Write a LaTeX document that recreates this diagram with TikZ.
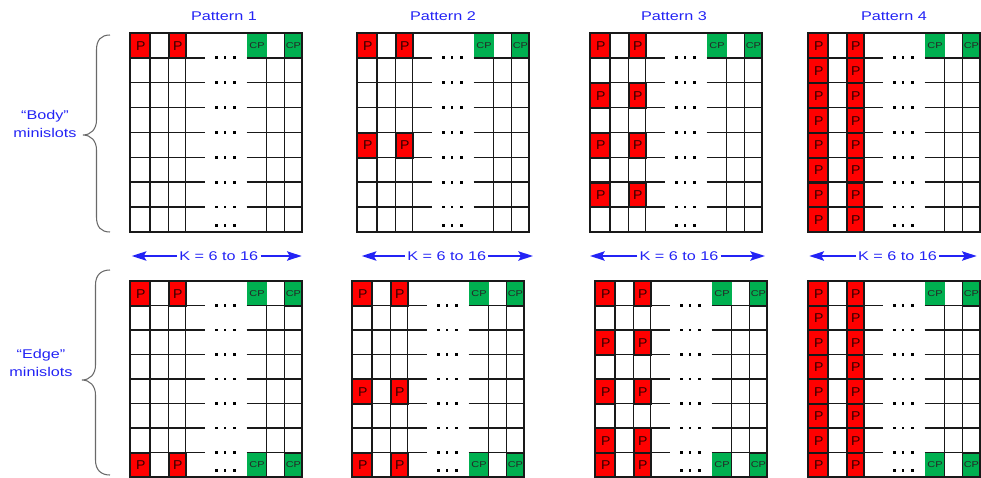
\documentclass[tikz,border=0pt]{standalone}
\usepackage{fontspec}
\setmainfont{Liberation Sans}[FakeStretch=1.28]
\newfontfamily\plainsans{Liberation Sans}[FakeStretch=1.1]
\usetikzlibrary{arrows.meta}
\definecolor{kblue}{RGB}{35,35,245}
\definecolor{cpgreen}{RGB}{0,176,80}
\definecolor{linegray}{RGB}{25,25,25}
\definecolor{bracegray}{RGB}{105,105,105}

\begin{document}
\begin{tikzpicture}[x=0.75pt,y=0.75pt,yscale=-1,xscale=1,
  gridline/.style={draw=linegray,line width=1.1pt},
  pcell/.style={draw=linegray,line width=1.1pt,fill=red,inner sep=0pt,anchor=north west,text=black!80!red,font=\plainsans\fontsize{9.6}{10}\selectfont},
  cpcell/.style={fill=cpgreen,inner sep=0pt,anchor=north west,text=black!85,font=\fontsize{6.4}{7}\selectfont},
  pattitle/.style={text=kblue,font=\fontsize{9.5}{11}\selectfont},
  sidelabel/.style={text=kblue,align=center,font=\fontsize{9.5}{13.3}\selectfont},
  klabel/.style={text=kblue,inner xsep=1.5pt,font=\fontsize{9.5}{11}\selectfont},
  karrow/.style={draw=kblue,line width=1.4pt,-{Stealth[length=11pt,width=7pt,inset=2pt]}},
  curlybrace/.style={draw=bracegray,line width=0.8pt}]
\useasboundingbox (0,0) rectangle (981,478);

% minislot grids: left / top / row height / pattern / edge
\foreach \gx/\gy/\rh/\n/\e [count=\i] in {130/33/24.85/1/0, 357/33/24.85/2/0, 590/33/24.85/3/0, 808/33/24.85/4/0, 130/281/24.5/1/1, 352/281/24.5/2/1, 595/281/24.5/3/1, 808/281/24.5/4/1} {
  \begin{scope}[shift={(\gx,\gy)}]
    \pgfmathsetmacro\H{8*\rh}
    % pilot cells
    \foreach \r in {1,...,8} {
      \pgfmathtruncatemacro\hasp{(\r==1)||(\n==4)||(\n==2&&\r==5)||(\n==3&&mod(\r,2)==1)||(\e==1&&\r==8)}
      \ifnum\hasp=1
        \node[pcell,minimum width=15pt,minimum height={0.75pt*\rh}] (p\i-\r-a) at (0,{(\r-1)*\rh}) {P};
        \node[pcell,minimum width=13pt,minimum height={0.75pt*\rh}] (p\i-\r-b) at (38.3,{(\r-1)*\rh}) {P};
      \fi
    }
    % continual pilot cells
    \foreach \r in {1,8} {
      \pgfmathtruncatemacro\hascp{(\r==1)||(\e==1)}
      \ifnum\hascp=1
        \node[cpcell,minimum width=15pt,minimum height={0.75pt*\rh}] (cp\i-\r-a) at (116.7,{(\r-1)*\rh}) {CP};
        \node[cpcell,draw=linegray,minimum width=13.3pt,minimum height={0.75pt*\rh}] (cp\i-\r-b) at (154.3,{(\r-1)*\rh}) {CP};
      \fi
    }
    % lines
    \draw[gridline] (0,0) rectangle (172,\H);
    \foreach \c in {20,38.3,55.7,154.3} \draw[gridline] (\c,0) -- (\c,\H);
    \draw[gridline] (136.7,\rh) -- (136.7,\H);
    \foreach \r in {1,...,7} \draw[gridline] (0,\r*\rh) -- (75,\r*\rh) (116.7,\r*\rh) -- (172,\r*\rh);
    % dots
    \foreach \r in {1,...,7} \foreach \d in {86.7,95,104.3} \fill (\d-1.4,\r*\rh-1.4) rectangle ++(2.8,2.8);
    \foreach \d in {86.7,95,104.3} \fill (\d-1.4,\H-8.1) rectangle ++(2.8,2.8);
  \end{scope}
}

% titles
\foreach \x [count=\i] in {224,443,674,894} \node[pattitle] (t\i) at (\x,16) {Pattern \i};

% K arrows
\foreach \x/\lx/\rx [count=\i] in {218.8/131.7/301.7, 446.7/361.7/533, 679/590/765, 897.5/809.3/976.7} {
  \node[klabel] (k\i) at (\x,256) {K = 6 to 16};
  \coordinate (kl\i) at (\lx,256);
  \coordinate (kr\i) at (\rx,256);
  \draw[karrow] (k\i) -- (kl\i);
  \draw[karrow] (k\i) -- (kr\i);
}

% side labels
\node[sidelabel] (body) at (45,124) {“Body”\\minislots};
\node[sidelabel] (edge) at (41,363) {“Edge”\\minislots};

% braces
\draw[curlybrace] (110,35) .. controls (101,35) and (96.5,40) .. (96.5,50) -- (96.5,120) .. controls (96.5,129) and (91,135) .. (83,135) .. controls (91,135) and (96.5,141) .. (96.5,150) -- (96.5,217) .. controls (96.5,227) and (101,232) .. (110,232);
\draw[curlybrace] (110,270) .. controls (101,270) and (95.5,275) .. (95.5,285) -- (95.5,365) .. controls (95.5,374) and (90,380) .. (82,380) .. controls (90,380) and (95.5,386) .. (95.5,395) -- (95.5,460) .. controls (95.5,470) and (101,475) .. (110,475);

\end{tikzpicture}
\end{document}
